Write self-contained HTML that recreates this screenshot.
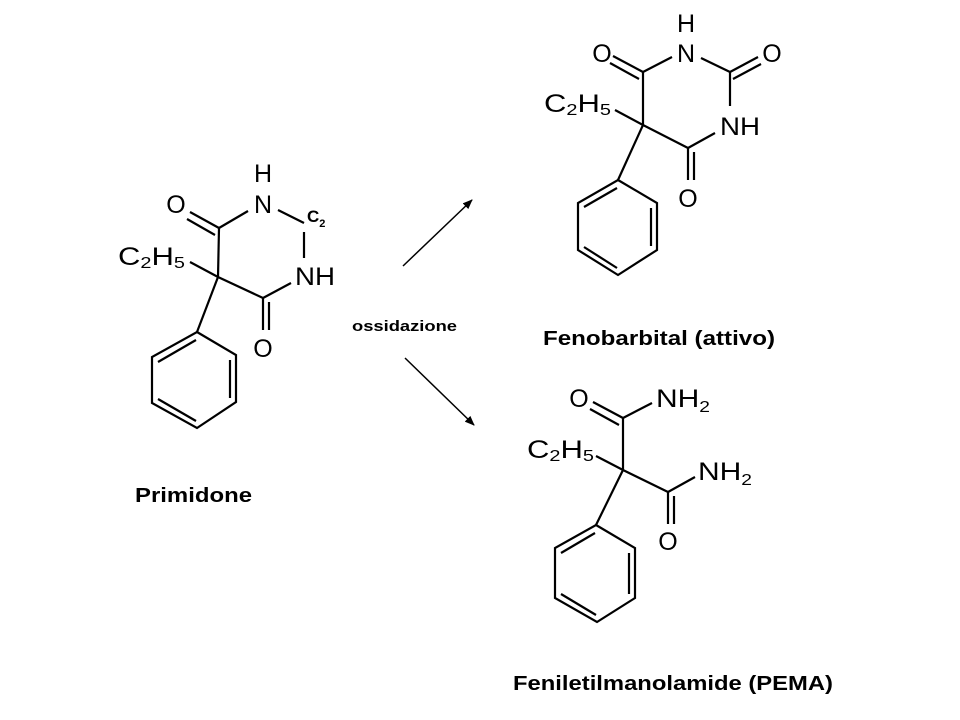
<!DOCTYPE html>
<html><head><meta charset="utf-8"><style>
html,body{margin:0;padding:0;background:#fff;}
svg{display:block;}
text{font-family:"Liberation Sans",Arial,sans-serif;fill:#000;}
.a{font-size:25px;}
.s{font-size:16px;}
.l{font-size:20px;font-weight:bold;}
</style></head><body>
<svg width="960" height="720" viewBox="0 0 960 720" xmlns="http://www.w3.org/2000/svg">
<defs><marker id="ar" markerWidth="10" markerHeight="8" refX="9" refY="4" orient="auto" markerUnits="userSpaceOnUse"><path d="M0,0 L10,4 L0,8 Z" fill="#000"/></marker></defs>
<g stroke="#000" stroke-width="2.2" fill="none">
<!-- Primidone -->
<line x1="218" y1="277" x2="219" y2="228"/>
<line x1="219" y1="228" x2="190" y2="212"/><line x1="215" y1="235" x2="187" y2="219"/>
<line x1="219" y1="228" x2="248" y2="211"/>
<line x1="278" y1="210" x2="304" y2="223"/>
<line x1="304" y1="232" x2="304" y2="258"/>
<line x1="291" y1="283" x2="263" y2="298"/>
<line x1="218" y1="277" x2="263" y2="298"/>
<line x1="263" y1="298" x2="263" y2="330"/><line x1="269" y1="302" x2="269" y2="330"/>
<line x1="190" y1="262" x2="218" y2="277"/>
<line x1="218" y1="277" x2="197" y2="332"/>
<polygon points="197,332 236,355 236,402 197,428 152,403 152,357"/>
<line x1="196" y1="340" x2="158" y2="362"/><line x1="230" y1="360" x2="230" y2="398"/><line x1="196" y1="421" x2="158" y2="399"/>
<!-- Fenobarbital -->
<line x1="643" y1="125" x2="643" y2="72"/>
<line x1="643" y1="72" x2="613" y2="56"/><line x1="639" y1="79" x2="610" y2="63"/>
<line x1="643" y1="72" x2="672" y2="57"/>
<line x1="701" y1="58" x2="730" y2="72"/>
<line x1="730" y1="72" x2="758" y2="57"/><line x1="733" y1="79" x2="761" y2="64"/>
<line x1="730" y1="72" x2="730" y2="106"/>
<line x1="715" y1="133" x2="688" y2="148"/>
<line x1="643" y1="125" x2="688" y2="148"/>
<line x1="688" y1="148" x2="688" y2="180"/><line x1="694" y1="152" x2="694" y2="180"/>
<line x1="615" y1="110" x2="643" y2="125"/>
<line x1="643" y1="125" x2="618" y2="180"/>
<polygon points="618,180 657,203 657,250 618,275 578,250 578,203"/>
<line x1="617" y1="188" x2="584" y2="207"/><line x1="651" y1="208" x2="651" y2="246"/><line x1="617" y1="268" x2="584" y2="247"/>
<!-- PEMA -->
<line x1="623" y1="470" x2="623" y2="418"/>
<line x1="623" y1="418" x2="593" y2="402"/><line x1="619" y1="425" x2="590" y2="409"/>
<line x1="623" y1="418" x2="652" y2="403"/>
<line x1="623" y1="470" x2="668" y2="492"/>
<line x1="668" y1="492" x2="695" y2="477"/>
<line x1="668" y1="492" x2="668" y2="524"/><line x1="674" y1="496" x2="674" y2="524"/>
<line x1="596" y1="456" x2="623" y2="470"/>
<line x1="623" y1="470" x2="596" y2="525"/>
<polygon points="596,525 635,548 635,598 597,622 555,598 555,548"/>
<line x1="595" y1="533" x2="561" y2="553"/><line x1="629" y1="553" x2="629" y2="594"/><line x1="596" y1="615" x2="561" y2="594"/>
<!-- arrows -->
<line x1="403" y1="266" x2="472" y2="200" stroke-width="1.5" marker-end="url(#ar)"/>
<line x1="405" y1="358" x2="474" y2="425" stroke-width="1.5" marker-end="url(#ar)"/>
</g>
<!-- Primidone labels -->
<text class="a" x="176" y="213" text-anchor="middle">O</text>
<text class="a" x="263" y="213" text-anchor="middle">N</text>
<text class="a" x="263" y="182" text-anchor="middle">H</text>
<text x="307" y="222" style="font-size:17px;font-weight:bold">C<tspan style="font-size:11px" dy="5">2</tspan></text>
<text class="a" x="295" y="285" textLength="40" lengthAdjust="spacingAndGlyphs">NH</text>
<text class="a" x="263" y="357" text-anchor="middle">O</text>
<text class="a" x="118" y="265" textLength="67" lengthAdjust="spacingAndGlyphs">C<tspan class="s" dy="3">2</tspan><tspan dy="-3">H</tspan><tspan class="s" dy="3">5</tspan></text>
<!-- Fenobarbital labels -->
<text class="a" x="602" y="62" text-anchor="middle">O</text>
<text class="a" x="686" y="62" text-anchor="middle">N</text>
<text class="a" x="686" y="32" text-anchor="middle">H</text>
<text class="a" x="772" y="62" text-anchor="middle">O</text>
<text class="a" x="720" y="135" textLength="40" lengthAdjust="spacingAndGlyphs">NH</text>
<text class="a" x="688" y="207" text-anchor="middle">O</text>
<text class="a" x="544" y="112" textLength="67" lengthAdjust="spacingAndGlyphs">C<tspan class="s" dy="3">2</tspan><tspan dy="-3">H</tspan><tspan class="s" dy="3">5</tspan></text>
<!-- PEMA labels -->
<text class="a" x="579" y="407" text-anchor="middle">O</text>
<text class="a" x="656" y="407" textLength="54" lengthAdjust="spacingAndGlyphs">NH<tspan class="s" dy="5">2</tspan></text>
<text class="a" x="698" y="480" textLength="54" lengthAdjust="spacingAndGlyphs">NH<tspan class="s" dy="5">2</tspan></text>
<text class="a" x="668" y="550" text-anchor="middle">O</text>
<text class="a" x="527" y="458" textLength="67" lengthAdjust="spacingAndGlyphs">C<tspan class="s" dy="3">2</tspan><tspan dy="-3">H</tspan><tspan class="s" dy="3">5</tspan></text>
<!-- captions -->
<text x="352" y="331" style="font-size:15px;font-weight:bold" textLength="105" lengthAdjust="spacingAndGlyphs">ossidazione</text>
<text class="l" x="135" y="502" textLength="117" lengthAdjust="spacingAndGlyphs">Primidone</text>
<text class="l" x="543" y="345" textLength="232" lengthAdjust="spacingAndGlyphs">Fenobarbital (attivo)</text>
<text class="l" x="513" y="690" textLength="320" lengthAdjust="spacingAndGlyphs">Feniletilmanolamide (PEMA)</text>
</svg>
</body></html>
